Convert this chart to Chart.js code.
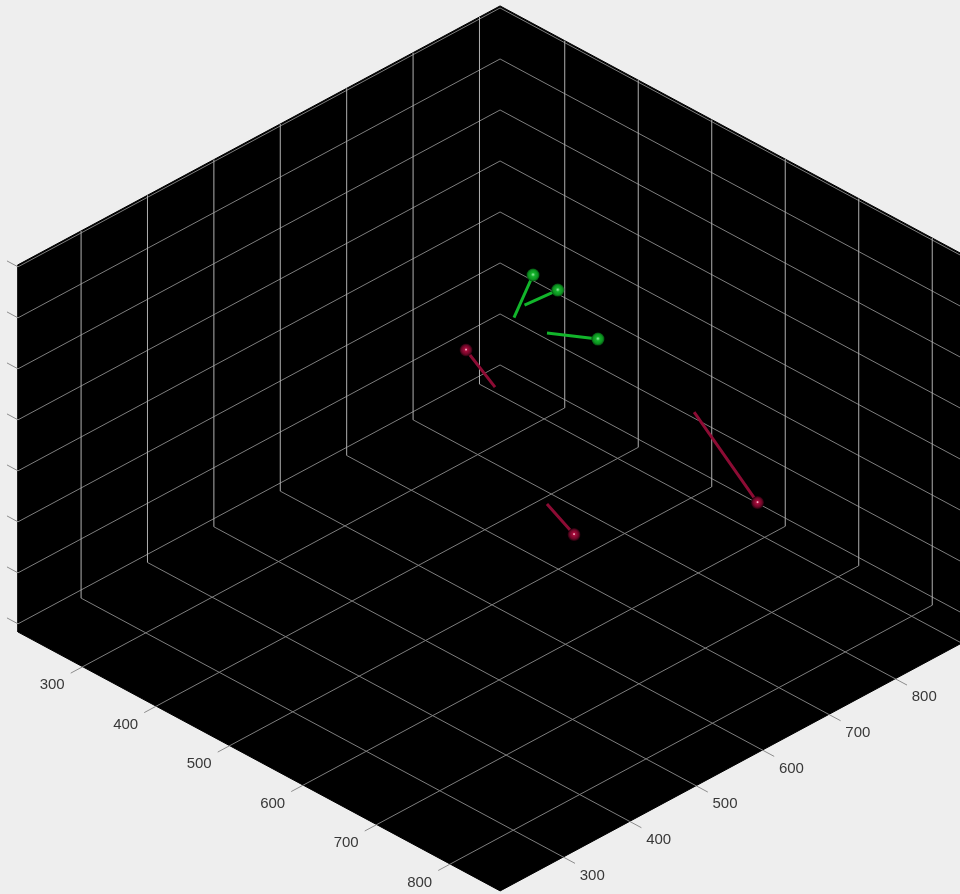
<!DOCTYPE html>
<html>
<head>
<meta charset="utf-8">
<style>
html,body{margin:0;padding:0;background:#eeeeee;overflow:hidden}
canvas{display:block;filter:blur(0.5px)}
</style>
<script src="https://cdn.jsdelivr.net/npm/chart.js@4"></script>
</head>
<body>
<canvas id="c" width="960" height="894"></canvas>
<script>
// Axis ranges and ticks (3-D data units)
const xRange = [212, 868];
const yRange = [205, 931];
const zRange = [284, 1004];
const xTicks = [300, 400, 500, 600, 700, 800];
const yTicks = [300, 400, 500, 600, 700, 800, 900];
const zTicks = [300, 400, 500, 600, 700, 800, 900, 1000];
const xTickLabels = ['300', '400', '500', '600', '700', '800'];
const yTickLabels = ['300', '400', '500', '600', '700', '800'];

// Green series: ball end and free end of every stem
const greenHeadX = [443.5, 473, 530];
const greenHeadY = [724.4, 729, 726.4];
const greenHeadZ = [800, 790, 740];
const greenTailX = [458.6, 456.4, 487.8];
const greenTailY = [679, 697.3, 696.4];
const greenTailZ = [760, 770, 740];

// Red series
const redHeadX = [337.9, 703.6, 541.8];
const redHeadY = [740.4, 774.6, 677.4];
const redHeadZ = [560, 520, 400];
const redTailX = [378.7, 623.3, 504.1];
const redTailY = [738.9, 768, 678.3];
const redTailZ = [520, 640, 430];

// View projection (orthographic) to the flat plane of the chart
function project(x, y, z) {
  const u = (x - xRange[0]) * 0.735;
  const v = (y - yRange[0]) * 0.664;
  return {
    x: 18 + u + v,
    y: 632 + 0.537 * (u - v) - (z - zRange[0]) * 0.51
  };
}
const GAP = {x: null, y: null};
function polyline(list) {
  const out = [];
  list.forEach(seg => {
    seg.forEach(p => out.push(project(p[0], p[1], p[2])));
    out.push(GAP);
  });
  return out;
}
const [x0, x1] = xRange, [y0, y1] = yRange, [z0, z1] = zRange;

const floorSegs = [];
const wallSegs = [];
xTicks.forEach(t => {
  floorSegs.push([[t, y0, z0], [t, y1, z0]]);
  wallSegs.push([[t, y1, z0], [t, y1, z1]]);
});
yTicks.forEach(t => {
  floorSegs.push([[x1, t, z0], [x0, t, z0]]);
  wallSegs.push([[x0, t, z0], [x0, t, z1]]);
});
zTicks.forEach(t => {
  floorSegs.push([[x0, y0, t], [x0, y1, t], [x1, y1, t]]);
});

const tickSegs = [];
xTicks.forEach(t => tickSegs.push([[t, y0, z0], [t, y0 - 18, z0]]));
yTicks.forEach(t => tickSegs.push([[x1, t, z0], [x1 + 16, t, z0]]));
zTicks.forEach(t => tickSegs.push([[x0, y0, t], [x0 - 15, y0, t]]));

const boxOutline = [
  [x0, y1, z1], [x0, y0, z1], [x0, y0, z0], [x1, y0, z0],
  [x1, y1, z0], [x1, y1, z1], [x0, y1, z1]
].map(p => project(p[0], p[1], p[2]));

function stems(hx, hy, hz, tx, ty, tz) {
  return polyline(hx.map((_, i) => [[tx[i], ty[i], tz[i]], [hx[i], hy[i], hz[i]]]));
}
function heads(hx, hy, hz) {
  return hx.map((_, i) => project(hx[i], hy[i], hz[i]));
}
function ballFill(stops, mid) {
  return function (ctx) {
    const chart = ctx.chart;
    const raw = ctx.raw;
    if (!raw || !chart.scales.x || !chart.scales.y) return stops[2];
    const px = chart.scales.x.getPixelForValue(raw.x);
    const py = chart.scales.y.getPixelForValue(raw.y);
    if (!isFinite(px) || !isFinite(py)) return stops[2];
    const g = chart.ctx.createRadialGradient(px, py - 0.5, 0.2, px, py, 6.5);
    g.addColorStop(0, stops[0]);
    g.addColorStop(mid, stops[1]);
    g.addColorStop(0.7, stops[2]);
    g.addColorStop(1, stops[3]);
    return g;
  };
}

const tickLabelPlugin = {
  id: 'tickLabels',
  afterDraw(chart) {
    const c = chart.ctx, sx = chart.scales.x, sy = chart.scales.y;
    c.save();
    c.fillStyle = '#383838';
    c.font = '15px "Liberation Sans", Arial, sans-serif';
    c.textAlign = 'center';
    c.textBaseline = 'middle';
    xTickLabels.forEach((s, i) => {
      const p = project(xTicks[i], y0, z0);
      c.fillText(s, sx.getPixelForValue(p.x) - 30.5, sy.getPixelForValue(p.y) + 18.5);
    });
    yTickLabels.forEach((s, i) => {
      const p = project(x1, yTicks[i], z0);
      c.fillText(s, sx.getPixelForValue(p.x) + 29, sy.getPixelForValue(p.y) + 18.5);
    });
    c.restore();
  }
};

new Chart(document.getElementById('c'), {
  type: 'scatter',
  plugins: [tickLabelPlugin],
  data: {
    datasets: [
      {label: 'green balls', data: heads(greenHeadX, greenHeadY, greenHeadZ), order: 1,
       pointRadius: 6.5, pointBorderWidth: 0, pointStyle: 'circle',
       backgroundColor: ballFill(['#8ce89a', '#14b02a', '#0c9420', '#044a10'], 0.3)},
      {label: 'red balls', data: heads(redHeadX, redHeadY, redHeadZ), order: 2,
       pointRadius: 6.5, pointBorderWidth: 0, pointStyle: 'circle',
       backgroundColor: ballFill(['#ffd0dc', '#a80c3c', '#6a0626', '#1a0108'], 0.2)},
      {label: 'green stems', data: stems(greenHeadX, greenHeadY, greenHeadZ, greenTailX, greenTailY, greenTailZ), order: 3,
       showLine: true, spanGaps: false, borderColor: '#12b52b', borderWidth: 3, pointRadius: 0},
      {label: 'red stems', data: stems(redHeadX, redHeadY, redHeadZ, redTailX, redTailY, redTailZ), order: 4,
       showLine: true, spanGaps: false, borderColor: '#8c0c34', borderWidth: 3, pointRadius: 0},
      {label: 'wall verticals', data: polyline(wallSegs), order: 5,
       showLine: true, spanGaps: false, borderColor: '#b0b0b0', borderWidth: 1, pointRadius: 0},
      {label: 'grid', data: polyline(floorSegs), order: 6,
       showLine: true, spanGaps: false, borderColor: '#7e7e7e', borderWidth: 1, pointRadius: 0},
      {label: 'ticks', data: polyline(tickSegs), order: 7,
       showLine: true, spanGaps: false, borderColor: '#8c8c8c', borderWidth: 1, pointRadius: 0},
      {label: 'box', data: boxOutline, order: 8,
       showLine: true, fill: 'shape', backgroundColor: '#000000', borderColor: '#000000', borderWidth: 1, pointRadius: 0}
    ]
  },
  options: {
    responsive: false,
    animation: false,
    devicePixelRatio: 1,
    layout: {padding: 0, autoPadding: false},
    plugins: {legend: {display: false}, tooltip: {enabled: false}},
    scales: {
      x: {type: 'linear', display: false, min: 0, max: 960},
      y: {type: 'linear', display: false, min: 0, max: 894, reverse: true}
    }
  }
});
</script>
</body>
</html>
